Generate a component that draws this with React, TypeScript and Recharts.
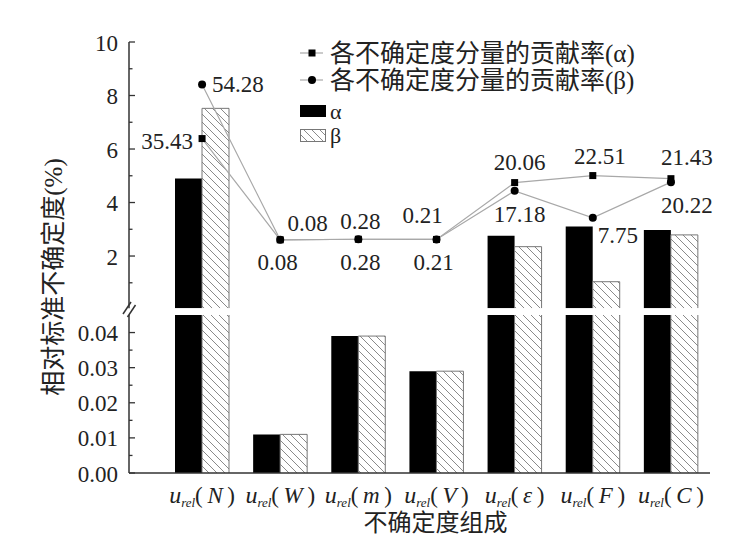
import React from 'react';
import { ComposedChart, Bar, Line, XAxis, YAxis, LabelList, Legend } from 'recharts';

// ---------------- data ----------------
const categories = ['N', 'W', 'm', 'V', 'ε', 'F', 'C'];
// relative standard uncertainty (%)
const alphaUncertainty = [4.9, 0.011, 0.039, 0.029, 2.76, 3.1, 2.97];
const betaUncertainty = [7.52, 0.011, 0.039, 0.029, 2.35, 1.04, 2.79];
// contribution rate of each component (%)
const alphaContribution = [35.43, 0.08, 0.28, 0.21, 20.06, 22.51, 21.43];
const betaContribution = [54.28, 0.08, 0.28, 0.21, 17.18, 7.75, 20.22];

const upperDomain = [0.05, 10];
const lowerDomain = [0, 0.045];
const upperTicks = [1, 2, 3, 4, 5, 6, 7, 8, 9, 10];
const upperTickLabels = ['', '2', '', '4', '', '6', '', '8', '', '10'];
const lowerTicks = [0, 0.005, 0.01, 0.015, 0.02, 0.025, 0.03, 0.035, 0.04];
const lowerTickLabels = ['0.00', '', '0.01', '', '0.02', '', '0.03', '', '0.04'];

const legendNames = ['各不确定度分量的贡献率(α)', '各不确定度分量的贡献率(β)', 'α', 'β'];
const yTitle = '相对标准不确定度(%)';
const xTitle = '不确定度组成';

// label placement relative to each point (style only)
const alphaLabelOffsets = [
  { dx: -9, dy: 3, anchor: 'end' },
  { dx: -2.5, dy: 23, anchor: 'middle' },
  { dx: 2, dy: 23, anchor: 'middle' },
  { dx: -3, dy: 23, anchor: 'middle' },
  { dx: 5, dy: -20, anchor: 'middle' },
  { dx: 7, dy: -19, anchor: 'middle' },
  { dx: 16, dy: -21, anchor: 'middle' },
];
const betaLabelOffsets = [
  { dx: 10, dy: 0, anchor: 'start' },
  { dx: 27.5, dy: -16, anchor: 'middle' },
  { dx: 2, dy: -18, anchor: 'middle' },
  { dx: -14, dy: -24, anchor: 'middle' },
  { dx: 5, dy: 24, anchor: 'middle' },
  { dx: 25, dy: 18, anchor: 'middle' },
  { dx: 16, dy: 23.5, anchor: 'middle' },
];

// lower segment table: all values (bars above 0.045 are clipped by the axis)
const lowerData = categories.map((cat, i) => ({
  cat,
  a: alphaUncertainty[i],
  b: betaUncertainty[i],
}));
// upper segment table: only the values that reach the upper segment, plus the rate lines
const upperData = categories.map((cat, i) => ({
  cat,
  a: alphaUncertainty[i] > upperDomain[0] ? alphaUncertainty[i] : null,
  b: betaUncertainty[i] > upperDomain[0] ? betaUncertainty[i] : null,
  ra: alphaContribution[i],
  rb: betaContribution[i],
}));

// ---------------- styles ----------------
const SERIF = "'Liberation Serif', 'Noto Sans CJK SC', serif";
const TEXT = '#222';
const AXIS = '#333';
const LINE = '#a8a8a8';
const W = 744;
const H = 551;
const LEFT = 69;
const RIGHT = 34;
const Y_AXIS_W = 60;

const makeYTick = (ticks: number[], labels: string[]) => (props: any) => {
  const { x, y, payload } = props;
  const idx = ticks.findIndex((t) => Math.abs(t - payload.value) < 1e-9);
  const label = idx >= 0 ? labels[idx] : '';
  const major = label !== '';
  return (
    <g>
      <line x1={x} x2={x + (major ? 6 : 3.5)} y1={y} y2={y} stroke={AXIS} strokeWidth={1.3} />
      {major && (
        <text x={x - 11} y={y + 1} textAnchor="end" dominantBaseline="central" fontFamily={SERIF} fontSize={23} fill={TEXT}>
          {label}
        </text>
      )}
    </g>
  );
};

const XTick = (props: any) => {
  const { x, y, payload } = props;
  return (
    <text x={x} y={y + 30} textAnchor="middle" fontFamily={SERIF} fontSize={23} fill={TEXT}>
      <tspan fontStyle="italic" fontSize={24}>u</tspan>
      <tspan fontStyle="italic" fontSize={13} dy={4}>rel</tspan>
      <tspan dy={-4}>{'(\u2009'}</tspan>
      <tspan fontStyle="italic">{payload.value}</tspan>
      <tspan>{'\u2009)'}</tspan>
    </text>
  );
};

const HatchBar = (props: any) => {
  const { x, y, width, height } = props;
  if (width == null || height == null || !isFinite(y) || !isFinite(height)) return null;
  const top = Math.min(y, y + height);
  const h = Math.abs(height);
  return (
    <g>
      <rect x={x} y={top} width={width} height={h} fill="url(#hatchPattern)" />
      <path
        d={`M${x},${top + h} L${x},${top} L${x + width},${top} L${x + width},${top + h}`}
        fill="none"
        stroke="#777"
        strokeWidth={1}
      />
    </g>
  );
};

const SquareDot = (props: any) => {
  const { cx, cy, index } = props;
  if (cx == null || cy == null) return null;
  return <rect key={`sq-${index}`} x={cx - 3.5} y={cy - 3.5} width={7} height={7} fill="#000" />;
};

const CircleDot = (props: any) => {
  const { cx, cy, index } = props;
  if (cx == null || cy == null) return null;
  return <circle key={`ci-${index}`} cx={cx} cy={cy} r={4} fill="#000" />;
};

const makeRateLabel = (offsets: { dx: number; dy: number; anchor: string }[]) => (props: any) => {
  const { value, index } = props;
  const px = props.x ?? props.viewBox?.x;
  const py = props.y ?? props.viewBox?.y;
  const o = offsets[index];
  if (px == null || py == null || !o) return null;
  return (
    <text
      x={px + o.dx}
      y={py + o.dy}
      textAnchor={o.anchor as any}
      dominantBaseline="central"
      fontFamily={SERIF}
      fontSize={23}
      fill={TEXT}
    >
      {Number(value).toFixed(2)}
    </text>
  );
};

const LegendContent = () => (
  <svg width={420} height={112} style={{ display: 'block', overflow: 'visible' }}>
    <line x1={2} x2={25} y1={17} y2={17} stroke={LINE} strokeWidth={1.2} />
    <rect x={10.5} y={13.5} width={7} height={7} fill="#000" />
    <text x={32} y={17} dominantBaseline="central" fontFamily={SERIF} fontSize={25} fill={TEXT}>
      {legendNames[0]}
    </text>
    <line x1={2} x2={25} y1={44} y2={44} stroke={LINE} strokeWidth={1.2} />
    <circle cx={14} cy={44} r={4} fill="#000" />
    <text x={32} y={44} dominantBaseline="central" fontFamily={SERIF} fontSize={25} fill={TEXT}>
      {legendNames[1]}
    </text>
    <rect x={2} y={69} width={26} height={12} fill="#000" />
    <text x={32} y={75} dominantBaseline="central" fontFamily={SERIF} fontSize={22} fill={TEXT}>
      {legendNames[2]}
    </text>
    <rect x={2.5} y={93.5} width={25} height={12} fill="url(#hatchPattern)" stroke="#777" strokeWidth={1} />
    <text x={32} y={99} dominantBaseline="central" fontFamily={SERIF} fontSize={22} fill={TEXT}>
      {legendNames[3]}
    </text>
  </svg>
);

const YTitle = (props: any) => {
  const vb = props.viewBox || { x: LEFT };
  const cx = vb.x - 16;
  const cy = 277;
  return (
    <text
      x={cx}
      y={cy}
      transform={`rotate(-90, ${cx}, ${cy})`}
      textAnchor="middle"
      dominantBaseline="central"
      fontFamily={SERIF}
      fontSize={25}
      fill={TEXT}
    >
      {yTitle}
    </text>
  );
};

const XTitle = (props: any) => {
  const vb = props.viewBox || { x: 129, y: 473, width: 581 };
  return (
    <text
      x={vb.x + vb.width / 2 + 16}
      y={523}
      textAnchor="middle"
      dominantBaseline="central"
      fontFamily={SERIF}
      fontSize={24}
      fill={TEXT}
    >
      {xTitle}
    </text>
  );
};

export default function App() {
  const upperBottom = 308.2;
  const lowerTop = 315;
  const lowerBottom = 473;
  return (
    <div style={{ position: 'absolute', left: 0, top: 0, width: W, height: H, background: '#fff' }}>
      <svg width={0} height={0} style={{ position: 'absolute' }}>
        <defs>
          <pattern id="hatchPattern" patternUnits="userSpaceOnUse" width={8} height={8}>
            <path d="M0,0 L8,8 M-1,7 L1,9 M7,-1 L9,1" stroke="#8a8a8a" strokeWidth={1} />
          </pattern>
        </defs>
      </svg>

      {/* lower segment: 0 – 0.045 */}
      <div style={{ position: 'absolute', left: 0, top: 0 }}>
        <ComposedChart
          width={W}
          height={H}
          data={lowerData}
          barGap={0}
          margin={{ top: lowerTop, right: RIGHT, bottom: H - lowerBottom - 30, left: LEFT }}
        >
          <XAxis
            dataKey="cat"
            type="category"
            padding={{ left: 34, right: 0 }}
            height={30}
            tickLine={false}
            tickSize={0}
            tickMargin={0}
            axisLine={{ stroke: AXIS, strokeWidth: 1.5 }}
            tick={<XTick />}
            interval={0}
            label={<XTitle />}
          />
          <YAxis
            yAxisId="left"
            type="number"
            domain={lowerDomain}
            allowDataOverflow
            ticks={lowerTicks}
            interval={0}
            width={Y_AXIS_W}
            tickLine={false}
            tickSize={0}
            tickMargin={0}
            axisLine={{ stroke: AXIS, strokeWidth: 1.5 }}
            tick={makeYTick(lowerTicks, lowerTickLabels)}
          />
          <Bar yAxisId="left" dataKey="a" name="α" barSize={27} fill="#000" isAnimationActive={false} />
          <Bar yAxisId="left" dataKey="b" name="β" barSize={27} shape={<HatchBar />} isAnimationActive={false} />
        </ComposedChart>
      </div>

      {/* upper segment: 0.05 – 10 with contribution-rate lines */}
      <div style={{ position: 'absolute', left: 0, top: 0 }}>
        <ComposedChart
          width={W}
          height={H}
          data={upperData}
          barGap={0}
          margin={{ top: 42, right: RIGHT, bottom: H - upperBottom, left: LEFT }}
        >
          <XAxis dataKey="cat" type="category" padding={{ left: 34, right: 0 }} hide />
          <YAxis
            yAxisId="left"
            type="number"
            domain={upperDomain}
            allowDataOverflow
            ticks={upperTicks}
            interval={0}
            width={Y_AXIS_W}
            tickLine={false}
            tickSize={0}
            tickMargin={0}
            axisLine={{ stroke: AXIS, strokeWidth: 1.5 }}
            tick={makeYTick(upperTicks, upperTickLabels)}
            label={<YTitle />}
          />
          <YAxis yAxisId="right" orientation="right" type="number" domain={[-23.8, 69.15]} hide />
          <Bar yAxisId="left" dataKey="a" name="α" barSize={27} fill="#000" isAnimationActive={false} />
          <Bar yAxisId="left" dataKey="b" name="β" barSize={27} shape={<HatchBar />} isAnimationActive={false} />
          <Line
            yAxisId="right"
            dataKey="rb"
            name={legendNames[1]}
            stroke={LINE}
            strokeWidth={1.2}
            dot={<CircleDot />}
            activeDot={false}
            isAnimationActive={false}
          >
            <LabelList dataKey="rb" content={makeRateLabel(betaLabelOffsets)} />
          </Line>
          <Line
            yAxisId="right"
            dataKey="ra"
            name={legendNames[0]}
            stroke={LINE}
            strokeWidth={1.2}
            dot={<SquareDot />}
            activeDot={false}
            isAnimationActive={false}
          >
            <LabelList dataKey="ra" content={makeRateLabel(alphaLabelOffsets)} />
          </Line>
          <Legend
            layout="horizontal"
            verticalAlign="middle"
            align="center"
            content={<LegendContent />}
            wrapperStyle={{ position: 'absolute', left: 298, top: 36, width: 420, height: 112 }}
          />
        </ComposedChart>
      </div>

      {/* axis break marks */}
      <svg width={W} height={H} style={{ position: 'absolute', left: 0, top: 0, pointerEvents: 'none' }}>
        <line x1={123} y1={314} x2={131} y2={302} stroke={AXIS} strokeWidth={1.5} />
        <line x1={127.5} y1={317} x2={135.5} y2={305} stroke={AXIS} strokeWidth={1.5} />
      </svg>
    </div>
  );
}
